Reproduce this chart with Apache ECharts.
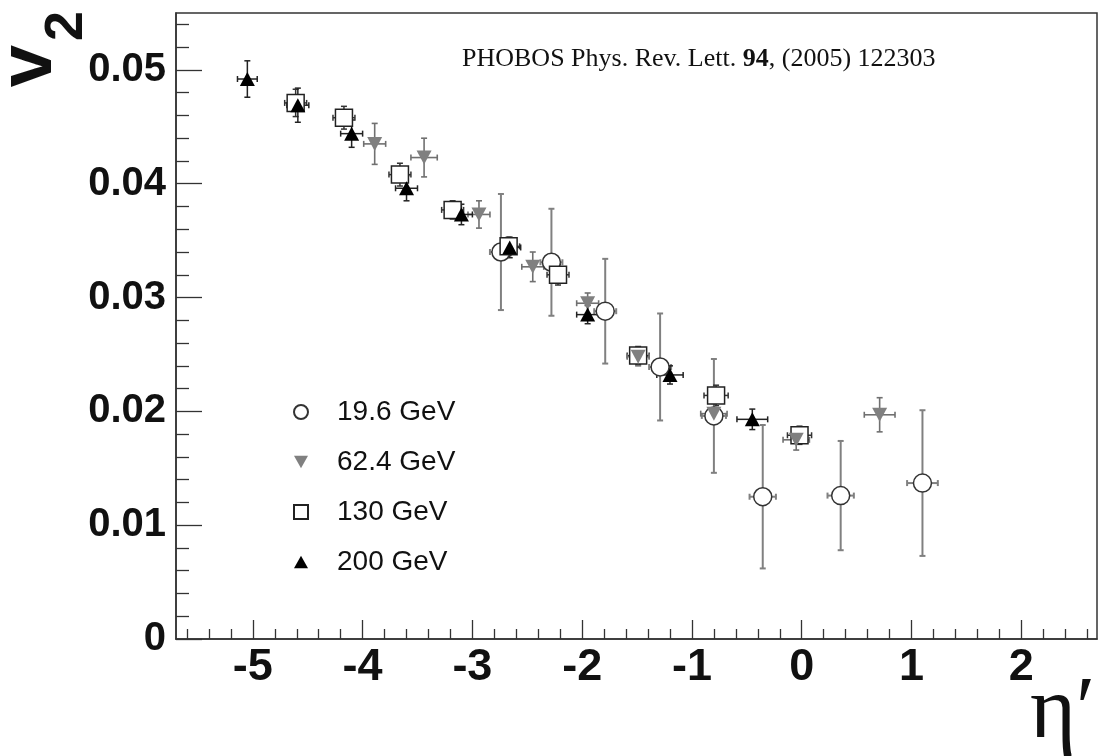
<!DOCTYPE html>
<html>
<head>
<meta charset="utf-8">
<script src="https://cdn.jsdelivr.net/npm/echarts@6/dist/echarts.min.js"></script>
<style>
html,body{margin:0;padding:0;background:#fff;}
#chart{width:1099px;height:756px;}
</style>
</head>
<body>
<div id="chart"></div>
<script>
// ---- data ----
const seriesNames = ['19.6 GeV', '62.4 GeV', '130 GeV', '200 GeV'];

const eta19  = [-2.74, -2.28, -1.79, -1.29, -0.80, -0.355, 0.355, 1.10];
const v2_19  = [0.0340, 0.0331, 0.0288, 0.0239, 0.0196, 0.0125, 0.0126, 0.0137];
const ey19   = [0.0051, 0.0047, 0.0046, 0.0047, 0.0050, 0.0063, 0.0048, 0.0064];
const ex19   = [0.10, 0.10, 0.10, 0.10, 0.11, 0.12, 0.12, 0.14];

const eta62  = [-3.89, -3.44, -2.94, -2.45, -1.95, -1.49, -0.80, -0.05, 0.71];
const v2_62  = [0.0435, 0.0423, 0.0373, 0.0327, 0.0295, 0.0248, 0.0198, 0.0175, 0.0197];
const ey62   = [0.0018, 0.0017, 0.0012, 0.0013, 0.0009, 0.0008, 0.0009, 0.0009, 0.0015];
const ex62   = [0.10, 0.12, 0.10, 0.10, 0.10, 0.10, 0.12, 0.12, 0.14];

const eta130 = [-4.61, -4.17, -3.66, -3.18, -2.67, -2.22, -1.49, -0.78, -0.02];
const v2_130 = [0.0471, 0.0458, 0.0408, 0.0377, 0.0345, 0.0320, 0.0249, 0.0214, 0.0179];
const ey130  = [0.0012, 0.0010, 0.0010, 0.0008, 0.0008, 0.0009, 0.0008, 0.0009, 0.0008];
const ex130  = [0.10, 0.10, 0.10, 0.10, 0.10, 0.10, 0.10, 0.11, 0.11];

const eta200 = [-5.05, -4.59, -4.10, -3.60, -3.10, -2.66, -1.95, -1.20, -0.45];
const v2_200 = [0.0492, 0.0469, 0.0444, 0.0396, 0.0373, 0.0344, 0.0285, 0.0232, 0.0193];
const ey200  = [0.0016, 0.0015, 0.0012, 0.0011, 0.0009, 0.0009, 0.0008, 0.0008, 0.0009];
const ex200  = [0.09, 0.10, 0.10, 0.10, 0.10, 0.10, 0.10, 0.12, 0.14];

const xTickValues = [-5, -4, -3, -2, -1, 0, 1, 2];
const xTickLabels = ['-5', '-4', '-3', '-2', '-1', '0', '1', '2'];
const yTickValues = [0, 0.01, 0.02, 0.03, 0.04, 0.05];
const yTickLabels = ['0', '0.01', '0.02', '0.03', '0.04', '0.05'];

const annotation = ['PHOBOS Phys. Rev. Lett. ', '94', ', (2005) 122303'];
const xTitle = 'η′';
const yTitle = ['v', '2'];

// ---- chart ----
const X_MIN = -5.7, X_MAX = 2.69, Y_MIN = 0, Y_MAX = 0.055;
const xMinor = [], yMinor = [];
for (let k = -28; k <= 13; k++) { if (k % 5 !== 0) xMinor.push(+(k * 0.2).toFixed(2)); }
for (let k = 1; k <= 27; k++) { if (k % 5 !== 0) yMinor.push(+(k * 0.002).toFixed(3)); }

function lookup(vals, labels, v) {
  for (let i = 0; i < vals.length; i++) if (Math.abs(vals[i] - v) < 1e-9) return labels[i];
  return '';
}

const SANS = 'Liberation Sans, Arial, Helvetica, sans-serif';
const SERIF = 'Liberation Serif, Times New Roman, serif';
const AX = '#333';

function errSeries(name, xs, ys, exs, eys, color, width) {
  return {
    name: name + ' err', type: 'custom', xAxisIndex: 0, yAxisIndex: 0,
    data: xs.map((x, i) => [x, ys[i], exs[i], eys[i]]),
    encode: { x: 0, y: 1 },
    silent: true,
    renderItem: function (params, api) {
      const x = api.value(0), y = api.value(1), ex = api.value(2), ey = api.value(3);
      const t = api.coord([x, y + ey]), b = api.coord([x, y - ey]);
      const l = api.coord([x - ex, y]), r = api.coord([x + ex, y]);
      const st = { stroke: color, lineWidth: width };
      const c = 3;
      const ln = (x1, y1, x2, y2) => ({ type: 'line', shape: { x1, y1, x2, y2 }, style: st });
      return {
        type: 'group',
        children: [
          ln(t[0], t[1], b[0], b[1]),
          ln(t[0] - c, t[1], t[0] + c, t[1]),
          ln(b[0] - c, b[1], b[0] + c, b[1]),
          ln(l[0], l[1], r[0], r[1]),
          ln(l[0], l[1] - c, l[0], l[1] + c),
          ln(r[0], r[1] - c, r[0], r[1] + c)
        ]
      };
    }
  };
}

function markSeries(name, xs, ys, symbol, size, itemStyle) {
  return {
    name: name, type: 'scatter', xAxisIndex: 0, yAxisIndex: 0,
    data: xs.map((x, i) => [x, ys[i]]),
    symbol: symbol, symbolSize: size,
    itemStyle: Object.assign({ opacity: 1 }, itemStyle)
  };
}

const DOWN_TRI = 'path://M0,0L20,0L10,18Z';
const UP_TRI = 'path://M10,0L20,18L0,18Z';

const chart = echarts.init(document.getElementById('chart'), null, { renderer: 'canvas' });
chart.setOption({
  animation: false,
  backgroundColor: '#fff',
  grid: { left: 176, right: 2, top: 13, bottom: 117, show: true, borderColor: AX, borderWidth: 1.5, backgroundColor: 'transparent' },
  xAxis: [
    {
      type: 'value', min: X_MIN, max: X_MAX, position: 'bottom',
      axisLine: { show: true, onZero: false, lineStyle: { color: AX, width: 1.5 } },
      axisTick: { show: true, inside: true, length: 19, customValues: xTickValues, lineStyle: { color: AX, width: 1.3 } },
      axisLabel: {
        show: true, customValues: xTickValues, margin: 6,
        formatter: v => lookup(xTickValues, xTickLabels, v),
        fontSize: 45, fontWeight: 'bold', fontFamily: SANS, color: '#111'
      },
      splitLine: { show: false }
    },
    {
      type: 'value', min: X_MIN, max: X_MAX, position: 'bottom',
      axisLine: { show: false, onZero: false },
      axisTick: { show: true, inside: true, length: 10, customValues: xMinor, lineStyle: { color: AX, width: 1.3 } },
      axisLabel: { show: false },
      splitLine: { show: false }
    }
  ],
  yAxis: [
    {
      type: 'value', min: Y_MIN, max: Y_MAX, position: 'left',
      axisLine: { show: true, onZero: false, lineStyle: { color: AX, width: 1.5 } },
      axisTick: { show: true, inside: true, length: 26, customValues: yTickValues, lineStyle: { color: AX, width: 1.3 } },
      axisLabel: {
        show: true, customValues: yTickValues, margin: 10,
        formatter: v => lookup(yTickValues, yTickLabels, v),
        fontSize: 40, fontWeight: 'bold', fontFamily: SANS, color: '#111'
      },
      splitLine: { show: false }
    },
    {
      type: 'value', min: Y_MIN, max: Y_MAX, position: 'left',
      axisLine: { show: false, onZero: false },
      axisTick: { show: true, inside: true, length: 13, customValues: yMinor, lineStyle: { color: AX, width: 1.3 } },
      axisLabel: { show: false },
      splitLine: { show: false }
    }
  ],
  legend: {
    orient: 'vertical', left: 293, top: 398, padding: 0,
    itemWidth: 14, itemHeight: 14, itemGap: 22,
    data: seriesNames,
    formatter: n => '{t|' + n + '}',
    textStyle: {
      fontFamily: SANS, fontSize: 28, color: '#111',
      rich: { t: { fontFamily: SANS, fontSize: 28, lineHeight: 28, color: '#111', padding: [0, 0, 0, 24] } }
    }
  },
  series: [
    errSeries('19.6 GeV', eta19, v2_19, ex19, ey19, '#808080', 2),
    markSeries('19.6 GeV', eta19, v2_19, 'circle', 18, { color: '#fff', borderColor: '#333', borderWidth: 1.5 }),
    errSeries('130 GeV', eta130, v2_130, ex130, ey130, '#333', 1.5),
    markSeries('130 GeV', eta130, v2_130, 'rect', 17, { color: '#fff', borderColor: '#222', borderWidth: 1.5 }),
    errSeries('62.4 GeV', eta62, v2_62, ex62, ey62, '#707070', 1.6),
    markSeries('62.4 GeV', eta62, v2_62, DOWN_TRI, [15, 14], { color: '#808080' }),
    errSeries('200 GeV', eta200, v2_200, ex200, ey200, '#222', 1.5),
    markSeries('200 GeV', eta200, v2_200, UP_TRI, [15, 14], { color: '#000' })
  ],
  graphic: [
    {
      type: 'text', x: 462, y: 59, silent: true,
      style: {
        text: '{a|' + annotation[0] + '}{b|' + annotation[1] + '}{a|' + annotation[2] + '}',
        align: 'left', verticalAlign: 'middle',
        rich: {
          a: { fontFamily: SERIF, fontSize: 26, fill: '#111' },
          b: { fontFamily: SERIF, fontSize: 26, fontWeight: 'bold', fill: '#111' }
        }
      }
    },
    {
      type: 'text', x: 1030, y: 714, silent: true,
      style: { text: xTitle, fontFamily: SERIF, fontSize: 88, fill: '#111', align: 'left', verticalAlign: 'middle' }
    },
    {
      type: 'text', x: 30, y: 66, rotation: Math.PI / 2, silent: true,
      style: { text: yTitle[0], fontFamily: SANS, fontSize: 76, fontWeight: 'bold', fill: '#111', align: 'center', verticalAlign: 'middle' }
    },
    {
      type: 'text', x: 67, y: 26, rotation: Math.PI / 2, silent: true,
      style: { text: yTitle[1], fontFamily: SANS, fontSize: 54, fontWeight: 'bold', fill: '#111', align: 'center', verticalAlign: 'middle' }
    }
  ]
});
</script>
</body>
</html>
